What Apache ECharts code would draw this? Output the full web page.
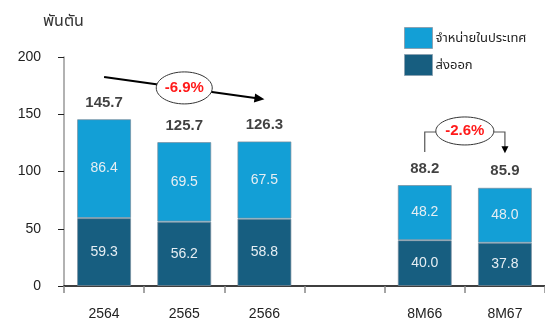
<!DOCTYPE html>
<html>
<head>
<meta charset="utf-8">
<script src="https://cdn.jsdelivr.net/npm/echarts@6/dist/echarts.min.js"></script>
<style>
html, body { margin: 0; padding: 0; background: #fff; }
#chart { width: 545px; height: 329px; }
</style>
</head>
<body>
<div id="chart"></div>
<script>
// Volumes in thousand tonnes
const categories = ['2564', '2565', '2566', '', '8M66', '8M67'];
const exportTons = [59.3, 56.2, 58.8, null, 40.0, 37.8];
const domesticTons = [86.4, 69.5, 67.5, null, 48.2, 48.0];
const totalTons = [145.7, 125.7, 126.3, null, 88.2, 85.9];
const yTickValues = [0, 50, 100, 150, 200];
const changeLabels = ['-6.9%', '-2.6%'];

const FONT = '"Liberation Sans", Arial, "Noto Sans", "Noto Sans Thai", sans-serif';
const LIGHT = '#139fd6';
const DARK = '#175e80';

const chart = echarts.init(document.getElementById('chart'), null, { renderer: 'canvas' });

chart.setOption({
  animation: false,
  title: {
    text: 'พันตัน',
    left: 43, top: 14, padding: 0,
    textStyle: { fontFamily: FONT, fontSize: 16, fontWeight: 'normal', color: '#333' }
  },
  legend: {
    data: ['จำหน่ายในประเทศ', 'ส่งออก'],
    orient: 'vertical',
    left: 404, top: 27, padding: 0,
    itemWidth: 28, itemHeight: 21, itemGap: 5,
    icon: 'rect',
    textStyle: { fontFamily: FONT, fontSize: 13, color: '#222', padding: [0, 0, 0, -2] },
    itemStyle: { borderColor: '#8aa2b2', borderWidth: 1 }
  },
  grid: { left: 64, top: 57, width: 483, height: 229 },
  xAxis: {
    type: 'category',
    data: categories,
    axisLine: { lineStyle: { color: '#000', width: 1.5 } },
    axisTick: { show: true, length: 7, alignWithLabel: false, lineStyle: { color: '#888', width: 1.5 } },
    axisLabel: { margin: 21, fontFamily: FONT, fontSize: 14, color: '#222' }
  },
  yAxis: {
    type: 'value',
    min: yTickValues[0], max: yTickValues[yTickValues.length - 1], interval: 50,
    splitLine: { show: false },
    axisLine: { show: true, lineStyle: { color: '#999', width: 1.5 } },
    axisTick: { show: true, length: 6, lineStyle: { color: '#222', width: 1 } },
    axisLabel: { margin: 23, fontFamily: FONT, fontSize: 14, color: '#222' }
  },
  series: [
    {
      name: 'ส่งออก', type: 'bar', stack: 'vol', barWidth: 54,
      data: exportTons,
      itemStyle: { color: DARK, borderColor: 'rgba(120,140,155,0.7)', borderWidth: 1 },
      label: { show: true, position: 'inside', fontFamily: FONT, fontSize: 14, color: '#e6eef3',
               formatter: p => p.value.toFixed(1) }
    },
    {
      name: 'จำหน่ายในประเทศ', type: 'bar', stack: 'vol', barWidth: 54,
      data: domesticTons,
      itemStyle: { color: LIGHT, borderColor: 'rgba(120,140,155,0.7)', borderWidth: 1 },
      label: { show: true, position: 'inside', fontFamily: FONT, fontSize: 14, color: '#e6eef3',
               formatter: p => p.value.toFixed(1) }
    },
    {
      name: 'รวม', type: 'scatter', symbolSize: 0,
      data: totalTons,
      label: { show: true, position: 'top', distance: 9, fontFamily: FONT, fontSize: 15,
               fontWeight: 'bold', color: '#111', formatter: p => p.value.toFixed(1) }
    }
  ]
});

// Change annotations, anchored in data space
const px = (i, v) => chart.convertToPixel({ xAxisIndex: 0, yAxisIndex: 0 }, [i, v]);

function arrowHead(tip, from, len, half) {
  const dx = tip[0] - from[0], dy = tip[1] - from[1];
  const d = Math.hypot(dx, dy), ux = dx / d, uy = dy / d;
  const bx = tip[0] - ux * len, by = tip[1] - uy * len;
  return {
    type: 'polygon',
    shape: { points: [tip, [bx - uy * half, by + ux * half], [bx + uy * half, by - ux * half]] },
    style: { fill: '#000' }, z: 20
  };
}

function bubble(c, rx, ry, text) {
  return [
    { type: 'ellipse', shape: { cx: c[0], cy: c[1], rx: rx, ry: ry },
      style: { fill: '#fff', stroke: '#333', lineWidth: 1 }, z: 21 },
    { type: 'text', x: c[0], y: c[1], z: 22,
      style: { text: text, fill: '#ff1a1a', font: 'bold 15px ' + FONT, align: 'center', verticalAlign: 'middle' } }
  ];
}

const elems = [];

// 2564 -> 2566 trend arrow
const a0 = px(0, 182.5), a1 = px(2, 163);
elems.push({ type: 'line', shape: { x1: a0[0], y1: a0[1], x2: a1[0] - 4, y2: a1[1] - 0.5 },
             style: { stroke: '#000', lineWidth: 2 }, z: 20 });
elems.push(arrowHead(a1, a0, 10, 4.5));
const m0 = px(1, 173);
elems.push(...bubble(m0, 28, 16, changeLabels[0]));

// 8M66 -> 8M67 bracket arrow
const b0 = px(4, 117), b1 = px(4, 134.5), b2 = px(5, 134.5), b3 = px(5, 116);
elems.push({ type: 'polyline', shape: { points: [b0, b1, b2, [b3[0], b3[1] - 6]] },
             style: { stroke: '#555', lineWidth: 1.2, fill: null }, z: 20 });
elems.push(arrowHead(b3, [b3[0], b2[1]], 7, 3.5));
const m1 = [(b1[0] + b2[0]) / 2, px(4, 135.4)[1]];
elems.push(...bubble(m1, 29, 14, changeLabels[1]));

chart.setOption({ graphic: { elements: elems } });
</script>
</body>
</html>
